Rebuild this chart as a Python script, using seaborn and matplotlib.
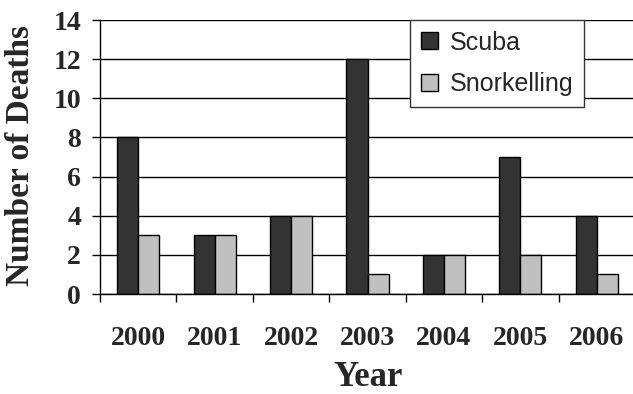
import matplotlib
matplotlib.use("Agg")
import matplotlib.pyplot as plt
import seaborn as sns
import pandas as pd
import numpy as np

# Diving-related deaths per year
years = ["2000", "2001", "2002", "2003", "2004", "2005", "2006"]
scuba = [8, 3, 4, 12, 2, 7, 4]
snorkelling = [3, 3, 4, 1, 2, 2, 1]
activities = ["Scuba", "Snorkelling"]
y_ticks = [0, 2, 4, 6, 8, 10, 12, 14]

df = pd.DataFrame({
    "Year": years * 2,
    "Deaths": scuba + snorkelling,
    "Activity": [activities[0]] * len(years) + [activities[1]] * len(years),
})

sns.set_theme(style="white")
plt.rcParams["font.family"] = ["Liberation Serif", "DejaVu Serif"]

W, H = 633, 394
fig = plt.figure(figsize=(W / 100, H / 100), dpi=100)
ax = fig.add_axes([100 / W, 1 - 294 / H, (635 - 100) / W, (294 - 20) / H])

palette = {"Scuba": "#333333", "Snorkelling": "#c0c0c0"}
sns.barplot(data=df, x="Year", y="Deaths", hue="Activity", order=years,
            hue_order=activities, palette=palette, width=0.55, gap=0,
            saturation=1, edgecolor="black", linewidth=1.0, ax=ax,
            legend=True)

ax.set_xlim(-0.5, 6.5)
ax.set_ylim(0, 14)
ax.set_yticks(y_ticks)
ax.yaxis.grid(True, color="black", linewidth=1.0)
ax.set_axisbelow(True)

for side in ["top", "right"]:
    ax.spines[side].set_visible(False)
for side in ["left", "bottom"]:
    ax.spines[side].set_color("black")
    ax.spines[side].set_linewidth(1.0)

tick_font = dict(family=["Liberation Serif"], weight="bold", size=20)
ax.set_yticklabels([str(v) for v in y_ticks], **tick_font)
ax.tick_params(axis="y", which="major", direction="out", length=5.5,
               width=1.0, color="black", pad=8, left=True)

# x labels centred on groups, tick marks on group boundaries
ax.set_xticks(range(len(years)))
ax.set_xticklabels(years, **tick_font)
ax.tick_params(axis="x", which="major", length=0, pad=23)
ax.set_xticks(np.arange(-0.5, len(years), 1.0), minor=True)
ax.tick_params(axis="x", which="minor", direction="out", length=6,
               width=1.0, color="black", bottom=True)

ax.set_xlabel("")
ax.set_ylabel("")
fig.text(21 / W, 1 - 155 / H, "Number of Deaths", rotation=90,
         ha="center", va="center", family=["Liberation Serif"],
         weight="bold", size=24)
fig.text(368 / W, 1 - 378 / H, "Year", ha="center", va="center",
         family=["Liberation Serif"], weight="bold", size=25)

handles, labels = ax.get_legend_handles_labels()
ax.get_legend().remove()
leg = fig.legend(handles, labels, loc="upper left",
                 bbox_to_anchor=(410 / W, 1 - 20 / H), borderaxespad=0,
                 frameon=True, fancybox=False, framealpha=1,
                 prop=dict(family=["Liberation Sans"], size=18),
                 handlelength=0.68, handleheight=0.68, handletextpad=0.5,
                 labelspacing=0.7, borderpad=0.42)
leg.get_frame().set_edgecolor("#333333")
leg.get_frame().set_linewidth(1.0)

fig.savefig("out.png", dpi=100)
